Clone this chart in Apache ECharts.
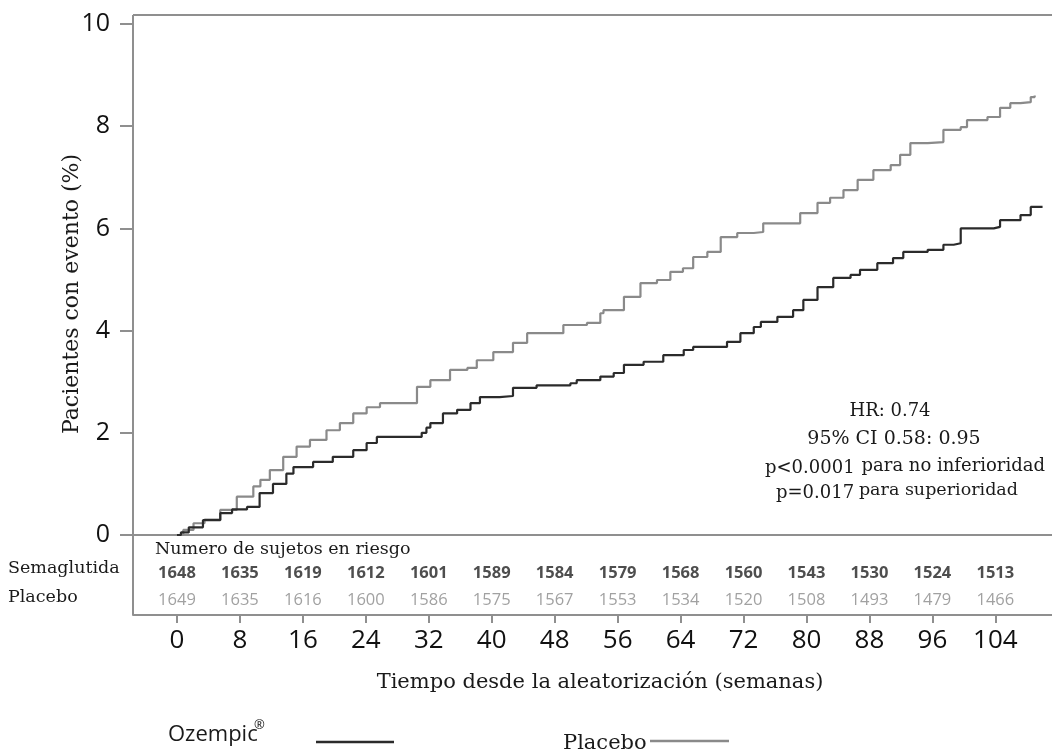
<!DOCTYPE html>
<html>
<head>
<meta charset="utf-8">
<script src="https://cdn.jsdelivr.net/npm/echarts@6/dist/echarts.min.js"></script>
<style>
html,body{margin:0;padding:0;background:#fff;}
#chart{width:1052px;height:749px;}
</style>
</head>
<body>
<div id="chart"></div>
<script>
// ---- data ----
const weekTicks = [0, 8, 16, 24, 32, 40, 48, 56, 64, 72, 80, 88, 96, 104];
const yTicks = [0, 2, 4, 6, 8, 10];
const riskSemaglutida = [1648, 1635, 1619, 1612, 1601, 1589, 1584, 1579, 1568, 1560, 1543, 1530, 1524, 1513];
const riskPlacebo = [1649, 1635, 1616, 1600, 1586, 1575, 1567, 1553, 1534, 1520, 1508, 1493, 1479, 1466];

const ozempicWeeks = [0, 0.5, 1.5, 3.3, 5.5, 7, 8.9, 10.5, 12.2, 13.9, 14.8, 17.3, 19.8, 22.4, 24.1, 25.4, 30.5, 31.1, 31.7, 32.2, 33.8, 35.6, 37.3, 38.5, 41, 42.7, 45.7, 50, 50.8, 53.8, 55.5, 56.8, 59.3, 61.8, 64.4, 65.6, 69.9, 71.6, 73.3, 74.2, 76.3, 78.3, 79.6, 81.4, 83.4, 85.6, 86.8, 89, 91, 92.3, 95.4, 97.4, 98.7, 99.6, 103.8, 104.6, 107.2, 108.5, 110];
const ozempicPct =   [0, 0.05, 0.15, 0.29, 0.43, 0.5, 0.55, 0.82, 1.0, 1.2, 1.33, 1.43, 1.53, 1.66, 1.8, 1.92, 1.92, 2.0, 2.1, 2.19, 2.38, 2.45, 2.58, 2.7, 2.72, 2.88, 2.93, 2.97, 3.03, 3.1, 3.17, 3.33, 3.39, 3.52, 3.62, 3.68, 3.78, 3.95, 4.07, 4.17, 4.27, 4.4, 4.6, 4.85, 5.03, 5.09, 5.19, 5.32, 5.42, 5.54, 5.58, 5.68, 5.71, 6.0, 6.03, 6.16, 6.26, 6.42, 6.42];

const placeboWeeks = [0, 0.8, 2.1, 3.5, 5.5, 7.6, 9.7, 10.6, 11.8, 13.5, 15.2, 16.9, 19, 20.7, 22.4, 24.1, 25.8, 29.4, 30.5, 32.2, 34.7, 36.9, 38.1, 40.2, 42.7, 44.5, 47.8, 49.1, 52.1, 53.8, 54.2, 56.8, 58.9, 61, 62.7, 64.3, 65.6, 67.4, 69.1, 71.2, 73.3, 74.5, 78.8, 79.2, 81.4, 83, 84.7, 86.5, 88.5, 90.7, 91.9, 93.2, 95.4, 97.4, 99.6, 100.4, 103, 104.6, 105.9, 107.2, 108.5, 109];
const placeboPct =   [0, 0.1, 0.23, 0.3, 0.49, 0.75, 0.95, 1.08, 1.27, 1.53, 1.73, 1.86, 2.05, 2.19, 2.38, 2.5, 2.58, 2.58, 2.9, 3.03, 3.23, 3.27, 3.42, 3.58, 3.76, 3.95, 3.95, 4.11, 4.15, 4.34, 4.4, 4.66, 4.93, 4.99, 5.15, 5.22, 5.44, 5.54, 5.83, 5.91, 5.93, 6.1, 6.1, 6.3, 6.5, 6.6, 6.75, 6.95, 7.14, 7.24, 7.44, 7.67, 7.69, 7.93, 7.98, 8.12, 8.18, 8.36, 8.45, 8.47, 8.57, 8.6];

// ---- chart ----
const chart = echarts.init(document.getElementById('chart'));
const GRAY = '#8f8f8f';
const SERIF = '"DejaVu Serif"';
const sans = 'Open Sans';
const xMin = -5.59, xMax = 111.2;

const zip = (a, b) => a.map((v, i) => [v, b[i]]);
const semaRow = 42, placRow = 15;
const txt = (x, y, text, size, align, extra) => Object.assign({
  type: 'text', x: x, y: y,
  style: { text: text, font: size + 'px ' + SERIF, fill: '#1a1a1a', textAlign: align || 'left', textVerticalAlign: 'middle' }
}, extra || {});

chart.setOption({
  animation: false,
  backgroundColor: '#fff',
  grid: [
    { left: 133, right: 0, top: 24, height: 511 },
    { left: 133, right: 0, top: 535, height: 80 }
  ],
  xAxis: [
    { gridIndex: 0, type: 'value', min: xMin, max: xMax,
      axisLine: { show: true, onZero: false, lineStyle: { color: GRAY, width: 2 } },
      axisTick: { show: false }, axisLabel: { show: false }, splitLine: { show: false } },
    { gridIndex: 1, type: 'value', min: xMin, max: xMax, position: 'bottom',
      axisLine: { show: true, onZero: false, lineStyle: { color: GRAY, width: 2 } },
      axisTick: { show: true, length: 8, customValues: weekTicks, lineStyle: { color: GRAY, width: 2 } },
      axisLabel: { show: true, customValues: weekTicks, margin: 13, fontSize: 26, fontFamily: sans, color: '#111' },
      splitLine: { show: false } }
  ],
  yAxis: [
    { gridIndex: 0, type: 'value', min: 0, max: 10, interval: 2, position: 'left',
      axisLine: { show: false, onZero: false },
      axisTick: { show: true, length: 13, lineStyle: { color: GRAY, width: 2 } },
      axisLabel: { margin: 23, fontSize: 25, fontFamily: sans, color: '#111',
        formatter: v => yTicks.includes(v) ? String(v) : '' },
      splitLine: { show: false } },
    { gridIndex: 1, type: 'value', min: 0, max: 80, show: false }
  ],
  series: [
    { name: 'Placebo', type: 'line', step: 'end', xAxisIndex: 0, yAxisIndex: 0,
      showSymbol: false, data: zip(placeboWeeks, placeboPct),
      lineStyle: { color: '#8a8a8a', width: 2.2 }, z: 3 },
    { name: 'Ozempic', type: 'line', step: 'end', xAxisIndex: 0, yAxisIndex: 0,
      showSymbol: false, data: zip(ozempicWeeks, ozempicPct),
      lineStyle: { color: '#2b2b2b', width: 2.2 }, z: 4 },
    { name: 'riskSema', type: 'scatter', xAxisIndex: 1, yAxisIndex: 1, symbolSize: 1,
      itemStyle: { color: 'rgba(0,0,0,0)' },
      data: weekTicks.map((w, i) => [w, semaRow, riskSemaglutida[i]]),
      label: { show: true, position: 'inside', formatter: p => p.value[2],
        fontSize: 16.5, fontWeight: 'bold', fontFamily: sans, color: '#222' } },
    { name: 'riskPlac', type: 'scatter', xAxisIndex: 1, yAxisIndex: 1, symbolSize: 1,
      itemStyle: { color: 'rgba(0,0,0,0)' },
      data: weekTicks.map((w, i) => [w, placRow, riskPlacebo[i]]),
      label: { show: true, position: 'inside', formatter: p => p.value[2],
        fontSize: 16.5, fontFamily: sans, color: '#8a8a8a' } }
  ],
  graphic: [
    { type: 'line', shape: { x1: 133, y1: 15, x2: 1052, y2: 15 }, style: { stroke: GRAY, lineWidth: 2 } },
    { type: 'line', shape: { x1: 133, y1: 15, x2: 133, y2: 615 }, style: { stroke: GRAY, lineWidth: 2 } },
    txt(72, 294, 'Pacientes con evento (%)', 22, 'center', { rotation: Math.PI / 2 }),
    txt(600, 683, 'Tiempo desde la aleatorización (semanas)', 21, 'center'),
    txt(155, 549, 'Numero de sujetos en riesgo', 17.5, 'left'),
    txt(8, 568, 'Semaglutida', 17.5, 'left'),
    txt(8, 597, 'Placebo', 17.5, 'left'),
    // annotation
    txt(890, 411, 'HR: 0.74', 18, 'center'),
    txt(894, 439, '95% CI 0.58: 0.95', 19, 'center'),
    txt(765, 468, 'p<0.0001', 18, 'left'),
    txt(1045, 466, 'para no inferioridad', 18, 'right'),
    txt(776, 493, 'p=0.017', 18, 'left'),
    txt(1018, 490, 'para superioridad', 17.5, 'right'),
    // legend
    { type: 'text', x: 168, y: 735,
      style: { text: 'Ozempic', font: '22px "Open Sans"', fill: '#1a1a1a', textAlign: 'left', textVerticalAlign: 'middle' } },
    { type: 'text', x: 254, y: 725,
      style: { text: '®', font: '13px "Open Sans"', fill: '#1a1a1a', textAlign: 'left', textVerticalAlign: 'middle' } },
    { type: 'line', shape: { x1: 316, y1: 742, x2: 394, y2: 742 }, style: { stroke: '#2b2b2b', lineWidth: 2.5 } },
    txt(563, 744, 'Placebo', 21, 'left'),
    { type: 'line', shape: { x1: 650, y1: 741, x2: 729, y2: 741 }, style: { stroke: '#8a8a8a', lineWidth: 2.5 } }
  ]
});
</script>
</body>
</html>
